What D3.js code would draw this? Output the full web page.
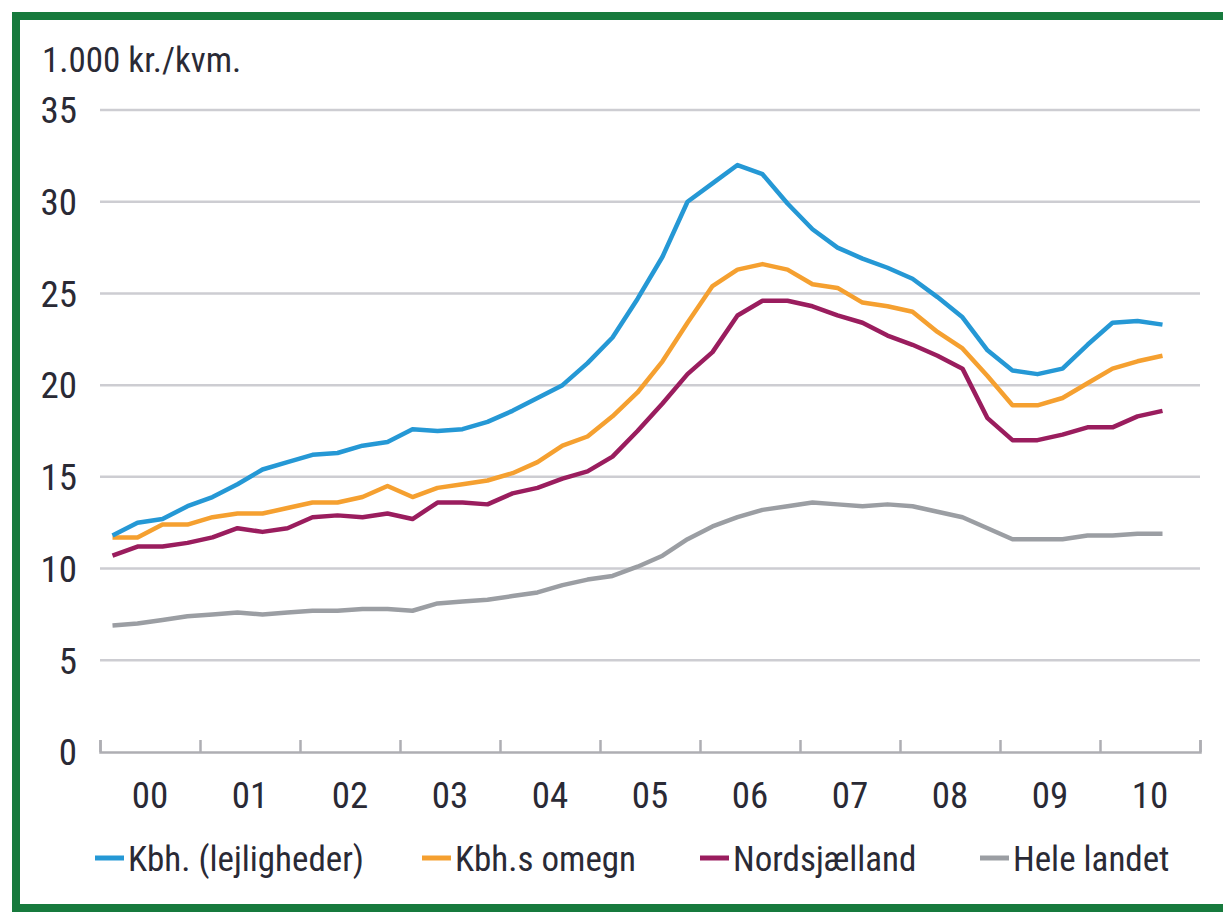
<!DOCTYPE html>
<html>
<head>
<meta charset="utf-8">
<script src="https://cdn.jsdelivr.net/npm/d3@7"></script>
<style>
  body { margin: 0; background: #fff; }
  text { font-family: "Liberation Sans Narrow", "Roboto Condensed", "DejaVu Sans Condensed", sans-serif; fill: #2a2a35; }
</style>
</head>
<body>
<div id="chart"></div>
<script>
// tick labels (years) and quarterly values 2000Q1 - 2010Q3, 1.000 kr. per kvm.
var years = ["00", "01", "02", "03", "04", "05", "06", "07", "08", "09", "10"];
var yTicks = [0, 5, 10, 15, 20, 25, 30, 35];

var kbh = [11.8, 12.5, 12.7, 13.4, 13.9, 14.6, 15.4, 15.8, 16.2, 16.3, 16.7, 16.9,
  17.6, 17.5, 17.6, 18.0, 18.6, 19.3, 20.0, 21.2, 22.6, 24.7, 27.0, 30.0,
  31.0, 32.0, 31.5, 29.9, 28.5, 27.5, 26.9, 26.4, 25.8, 24.8, 23.7, 21.9,
  20.8, 20.6, 20.9, 22.2, 23.4, 23.5, 23.3];
var omegn = [11.7, 11.7, 12.4, 12.4, 12.8, 13.0, 13.0, 13.3, 13.6, 13.6, 13.9, 14.5,
  13.9, 14.4, 14.6, 14.8, 15.2, 15.8, 16.7, 17.2, 18.3, 19.6, 21.3, 23.4,
  25.4, 26.3, 26.6, 26.3, 25.5, 25.3, 24.5, 24.3, 24.0, 22.9, 22.0, 20.5,
  18.9, 18.9, 19.3, 20.1, 20.9, 21.3, 21.6];
var nordsj = [10.7, 11.2, 11.2, 11.4, 11.7, 12.2, 12.0, 12.2, 12.8, 12.9, 12.8, 13.0,
  12.7, 13.6, 13.6, 13.5, 14.1, 14.4, 14.9, 15.3, 16.1, 17.5, 19.0, 20.6,
  21.8, 23.8, 24.6, 24.6, 24.3, 23.8, 23.4, 22.7, 22.2, 21.6, 20.9, 18.2,
  17.0, 17.0, 17.3, 17.7, 17.7, 18.3, 18.6];
var heleLandet = [6.9, 7.0, 7.2, 7.4, 7.5, 7.6, 7.5, 7.6, 7.7, 7.7, 7.8, 7.8,
  7.7, 8.1, 8.2, 8.3, 8.5, 8.7, 9.1, 9.4, 9.6, 10.1, 10.7, 11.6,
  12.3, 12.8, 13.2, 13.4, 13.6, 13.5, 13.4, 13.5, 13.4, 13.1, 12.8, 12.2,
  11.6, 11.6, 11.6, 11.8, 11.8, 11.9, 11.9];

var seriesNames = ["Kbh. (lejligheder)", "Kbh.s omegn", "Nordsjælland", "Hele landet"];
var seriesColors = ["#2598d5", "#f5a030", "#9a1d5e", "#9b9ea3"];
var seriesData = [kbh, omegn, nordsj, heleLandet];

var W = 1223, H = 915;
var margin = {top: 110, right: 23, bottom: 163, left: 100};
var width = W - margin.left - margin.right,
    height = H - margin.top - margin.bottom;

var svg = d3.select("#chart")
  .append("svg")
  .attr("width", W)
  .attr("height", H);

// green frame
svg.append("rect")
  .attr("x", 16).attr("y", 16)
  .attr("width", W + 20).attr("height", H - 23)
  .attr("fill", "none")
  .attr("stroke", "#177a3d")
  .attr("stroke-width", 8);

var g = svg.append("g")
  .attr("transform", "translate(" + margin.left + "," + margin.top + ")");

// x: quarter index, 4 per year
var x = d3.scaleLinear()
  .domain([0, years.length * 4])
  .range([0, width]);

var y = d3.scaleLinear()
  .domain([0, 35])
  .range([height, 0]);

// gridlines
g.append("g")
  .selectAll("line")
  .data(yTicks.filter(function (d) { return d > 0; }))
  .enter()
  .append("line")
  .attr("x1", 0).attr("x2", width)
  .attr("y1", function (d) { return y(d); })
  .attr("y2", function (d) { return y(d); })
  .attr("stroke", "#cdcdd2")
  .attr("stroke-width", 2.5);

// y labels
g.append("g")
  .selectAll("text")
  .data(yTicks)
  .enter()
  .append("text")
  .attr("x", -23)
  .attr("y", function (d) { return y(d); })
  .attr("dy", "0.36em")
  .attr("text-anchor", "end")
  .style("font-size", "37px")
  .text(function (d) { return d; });

// x axis with ticks pointing up
var xAxis = d3.axisBottom(x)
  .tickValues(d3.range(0, years.length * 4 + 1, 4))
  .tickSize(-12)
  .tickFormat("");
var xg = g.append("g")
  .attr("transform", "translate(0," + height + ")")
  .call(xAxis);
xg.select(".domain").attr("stroke", "#aeaeb3").attr("stroke-width", 2.5);
xg.selectAll(".tick line").attr("stroke", "#aeaeb3").attr("stroke-width", 2.5);

// year labels centered between ticks
g.append("g")
  .selectAll("text")
  .data(years)
  .enter()
  .append("text")
  .attr("x", function (d, i) { return x(i * 4 + 2); })
  .attr("y", height + 56)
  .attr("text-anchor", "middle")
  .style("font-size", "37px")
  .text(function (d) { return d; });

// unit label
svg.append("text")
  .attr("x", 42)
  .attr("y", 72)
  .style("font-size", "35px")
  .text("1.000 kr./kvm.");

// lines
var line = d3.line()
  .x(function (d, i) { return x(i + 0.5); })
  .y(function (d) { return y(d); });

g.append("g")
  .selectAll("path")
  .data(seriesData.slice().reverse())
  .enter()
  .append("path")
  .attr("d", line)
  .attr("fill", "none")
  .attr("stroke", function (d, i) { return seriesColors[seriesData.length - 1 - i]; })
  .attr("stroke-width", 4.5)
  .attr("stroke-linejoin", "round");

// legend
var legendX = [95, 422, 700, 980];
var legend = svg.append("g")
  .selectAll("g")
  .data(seriesNames)
  .enter()
  .append("g")
  .attr("transform", function (d, i) { return "translate(" + legendX[i] + ",858)"; });
legend.append("line")
  .attr("x1", 0).attr("x2", 29)
  .attr("stroke", function (d, i) { return seriesColors[i]; })
  .attr("stroke-width", 5);
legend.append("text")
  .attr("x", 33)
  .attr("dy", "0.36em")
  .style("font-size", "35px")
  .text(function (d) { return d; });
</script>
</body>
</html>
